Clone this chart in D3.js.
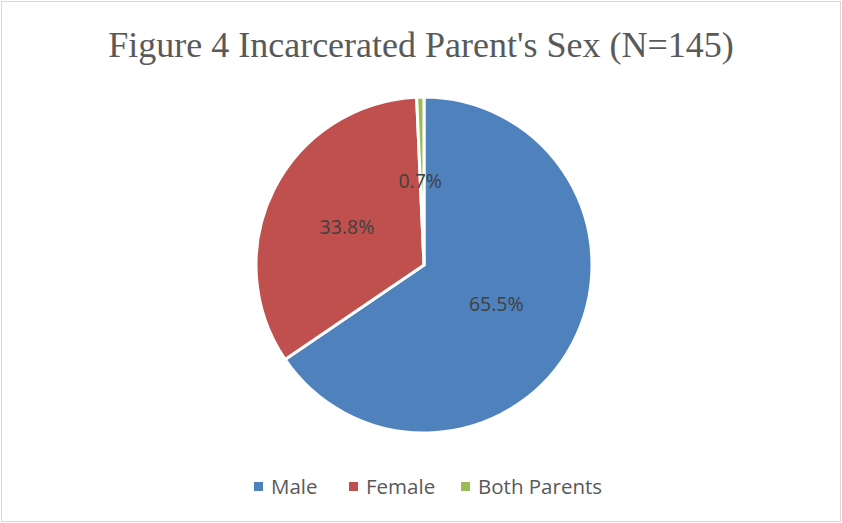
<!DOCTYPE html>
<html>
<head>
<meta charset="utf-8">
<script src="https://cdn.jsdelivr.net/npm/d3@7"></script>
<style>
  body { margin: 0; background: #fff; }
</style>
</head>
<body>
<script>
// chart data
const categories = ["Male", "Female", "Both Parents"];
const percents = [65.5, 33.8, 0.7];
const colors = ["#4F81BD", "#C0504D", "#9BBB59"];
const title = "Figure 4 Incarcerated Parent's Sex (N=145)";

const width = 842, height = 523;
const cx = 424, cy = 265, radius = 168;

const svg = d3.select("body").append("svg")
    .attr("width", width)
    .attr("height", height);

// chart frame
svg.append("rect")
    .attr("x", 1.5).attr("y", 1.5)
    .attr("width", width - 3).attr("height", height - 3)
    .style("fill", "#fff")
    .style("stroke", "#d9d9d9")
    .style("stroke-width", 1);

svg.append("text")
    .attr("x", 421)
    .attr("y", 57)
    .attr("text-anchor", "middle")
    .style("font-family", "'Liberation Serif', 'DejaVu Serif', serif")
    .style("font-size", "36px")
    .style("fill", "#595959")
    .text(title);

const data = categories.map((c, i) => ({name: c, value: percents[i], color: colors[i]}));

const pie = d3.pie().sort(null).value(d => d.value);
const arc = d3.arc().innerRadius(0).outerRadius(radius);

const g = svg.append("g").attr("transform", `translate(${cx},${cy})`);
const arcs = pie(data);

g.selectAll("path")
    .data(arcs)
    .join("path")
    .attr("d", arc)
    .style("fill", d => d.data.color)
    .style("stroke", "#fff")
    .style("stroke-width", 3)
    .style("stroke-linejoin", "round");

g.selectAll("text.lbl")
    .data(arcs)
    .join("text")
    .attr("class", "lbl")
    .attr("x", d => arc.centroid(d)[0] - 2)
    .attr("y", d => arc.centroid(d)[1])
    .attr("dy", "0.35em")
    .attr("text-anchor", "middle")
    .style("font-family", "'Open Sans', 'Liberation Sans', sans-serif")
    .style("font-size", "19.5px")
    .style("fill", "#404040")
    .text(d => d.data.value.toFixed(1) + "%");

// legend
const legendX = [254, 349, 461];
const legend = svg.append("g");
data.forEach((d, i) => {
    legend.append("rect")
        .attr("x", legendX[i])
        .attr("y", 482)
        .attr("width", 9).attr("height", 9)
        .style("fill", d.color);
    legend.append("text")
        .attr("x", legendX[i] + 17)
        .attr("y", 487)
        .attr("dy", "0.35em")
        .style("font-family", "'Open Sans', 'Liberation Sans', sans-serif")
        .style("font-size", "20.5px")
        .style("fill", "#595959")
        .text(d.name);
});
</script>
</body>
</html>
